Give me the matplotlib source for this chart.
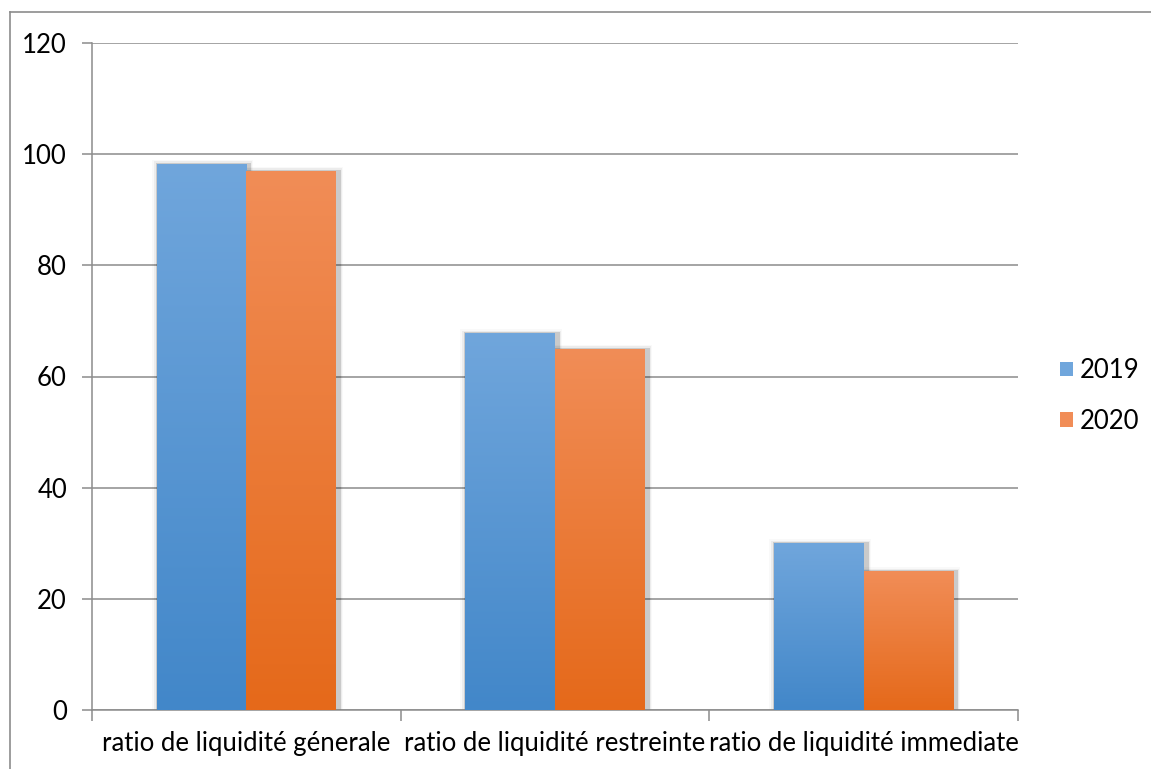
import matplotlib
matplotlib.use("Agg")
import matplotlib.pyplot as plt
import numpy as np
from matplotlib.colors import LinearSegmentedColormap
from matplotlib.patches import Rectangle
from matplotlib.lines import Line2D

categories = ["ratio de liquidité génerale", "ratio de liquidité restreinte", "ratio de liquidité immediate"]
series_names = ["2019", "2020"]
values_2019 = [98.3, 67.8, 30.0]
values_2020 = [97.0, 65.0, 25.0]
y_ticks = [0, 20, 40, 60, 80, 100, 120]

plt.rcParams["font.family"] = ["Lato", "DejaVu Sans"]
FS = 18.5

fig = plt.figure(figsize=(11.51, 7.69), dpi=100)
ax = fig.add_axes([92 / 1151, 1 - 710 / 769, (1018 - 92) / 1151, (710 - 43) / 769])

# outer frame of the chart area
fig.add_artist(Line2D([10 / 1151, 10 / 1151], [0, 1 - 12 / 769], transform=fig.transFigure, color="#8c8c8c", lw=1.2))
fig.add_artist(Line2D([10 / 1151, 1], [1 - 12 / 769, 1 - 12 / 769], transform=fig.transFigure, color="#8c8c8c", lw=1.2))

gradients = {
    "2019": ("#70a6dc", "#4287c9"),
    "2020": ("#f18d57", "#e5691a"),
}

x = np.arange(len(categories))
width = 0.29
offsets = [-width / 2, width / 2]
all_series = [values_2019, values_2020]

ax.set_xlim(-0.5, len(categories) - 0.5)
ax.set_ylim(0, 120)

px = 1.0 / (1018 - 92) * 3  # one pixel in category units
py = 120.0 / (710 - 43)     # one pixel in value units

grad = np.linspace(0, 1, 256).reshape(-1, 1)
for name, vals, off in zip(series_names, all_series, offsets):
    top, bottom = gradients[name]
    cmap = LinearSegmentedColormap.from_list(name, [bottom, top])
    bars = ax.bar(x + off, vals, width, color="none", edgecolor="none", zorder=3, label=name)
    for b in bars:
        bx, by = b.get_x(), b.get_y()
        bw, bh = b.get_width(), b.get_height()
        # soft shadow, mostly to the right of the bar
        for k, a in enumerate([0.14, 0.05, 0.025]):
            sh = Rectangle((bx - (1 + 2 * k) * px, by), bw + (6 + 3 * k) * px, bh + (1 + 1.5 * k) * py,
                           facecolor="black", edgecolor="none", alpha=a, zorder=2)
            ax.add_patch(sh)
        im = ax.imshow(grad, extent=[bx, bx + bw, by, by + bh], origin="lower",
                       cmap=cmap, aspect="auto", zorder=3.5, interpolation="bilinear")
        clip = Rectangle((bx, by), bw, bh, transform=ax.transData)
        im.set_clip_path(clip)

ax.set_xlim(-0.5, len(categories) - 0.5)
ax.set_ylim(0, 120)

ax.set_yticks(y_ticks)
ax.set_yticklabels([str(t) for t in y_ticks], fontsize=FS)
ax.yaxis.grid(True, color="#8c8c8c", lw=1.1, zorder=0)
ax.set_axisbelow(True)

ax.set_xticks(x)
ax.set_xticklabels(categories, fontsize=FS)
ax.tick_params(axis="x", length=0, pad=15)
ax.set_xticks(np.arange(-0.5, len(categories), 1.0), minor=True)
ax.tick_params(axis="x", which="minor", length=8, color="#8c8c8c", width=1.1, direction="out")
ax.tick_params(axis="y", length=7, color="#8c8c8c", width=1.1, direction="out", pad=11)

for s in ["top", "right"]:
    ax.spines[s].set_visible(False)
for s in ["left", "bottom"]:
    ax.spines[s].set_color("#8c8c8c")
    ax.spines[s].set_linewidth(1.1)

handles = [Rectangle((0, 0), 1, 1, facecolor=gradients[n][0], edgecolor="none") for n in series_names]
leg = fig.legend(handles, series_names, loc="center left", bbox_to_anchor=(1060 / 1151, 1 - 396 / 769),
                 frameon=False, fontsize=FS, handlelength=0.5, handleheight=0.5,
                 handletextpad=0.25, labelspacing=1.0, borderpad=0, borderaxespad=0)

fig.savefig("out.png", dpi=100, facecolor="white")
